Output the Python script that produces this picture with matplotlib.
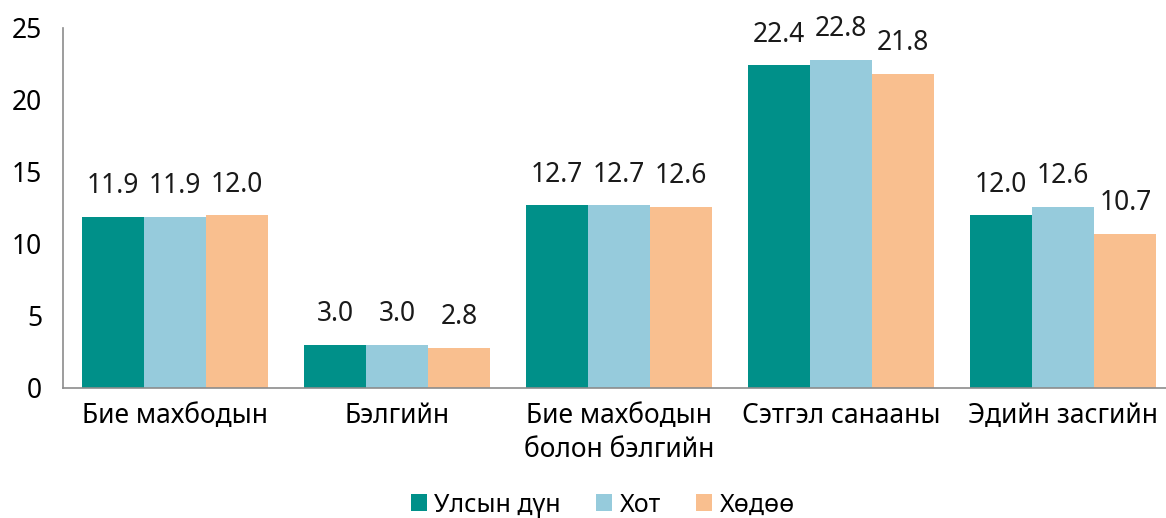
import numpy as np
import matplotlib.pyplot as plt

plt.rcParams['font.family'] = ['Noto Sans', 'DejaVu Sans']

categories = ["Бие махбодын", "Бэлгийн", "Бие махбодын\nболон бэлгийн", "Сэтгэл санааны", "Эдийн засгийн"]
series_names = ["Улсын дүн", "Хот", "Хөдөө"]
national = [11.9, 3.0, 12.7, 22.4, 12.0]
urban = [11.9, 3.0, 12.7, 22.8, 12.6]
rural = [12.0, 2.8, 12.6, 21.8, 10.7]
colors = ["#009089", "#96CBDC", "#F9BF8F"]

fig = plt.figure(figsize=(11.66, 5.18), dpi=100)
ax = fig.add_axes([0.054, 0.251, 0.946, 0.695])

x = np.arange(len(categories))
w = 0.28
for i, (vals, name, c) in enumerate(zip([national, urban, rural], series_names, colors)):
    pos = x + (i - 1) * w
    ax.bar(pos, vals, width=w, color=c, label=name)
    for px, v in zip(pos, vals):
        ax.text(px, v + 1.15, f"{v:.1f}", ha="center", va="bottom", fontsize=19, color="#1a1a1a")

ax.set_xlim(-0.505, 4.463)
ax.set_ylim(0, 25)
ax.set_yticks(range(0, 26, 5))
ax.set_xticks(x)
ax.set_xticklabels(categories, fontsize=19, linespacing=1.3)
ax.tick_params(axis="y", labelsize=19, length=0, pad=15)
ax.tick_params(axis="x", length=0, pad=10)
for s in ["top", "right"]:
    ax.spines[s].set_visible(False)
for s in ["left", "bottom"]:
    ax.spines[s].set_color("#8c8c8c")
    ax.spines[s].set_linewidth(1.2)

handles, labels = ax.get_legend_handles_labels()
fig.legend(handles, labels, loc="center", bbox_to_anchor=(0.517, 0.025), ncol=3, frameon=False,
           fontsize=18, handlelength=0.65, handleheight=0.65, handletextpad=0.3, columnspacing=1.4)

fig.savefig("out.png", dpi=100)
